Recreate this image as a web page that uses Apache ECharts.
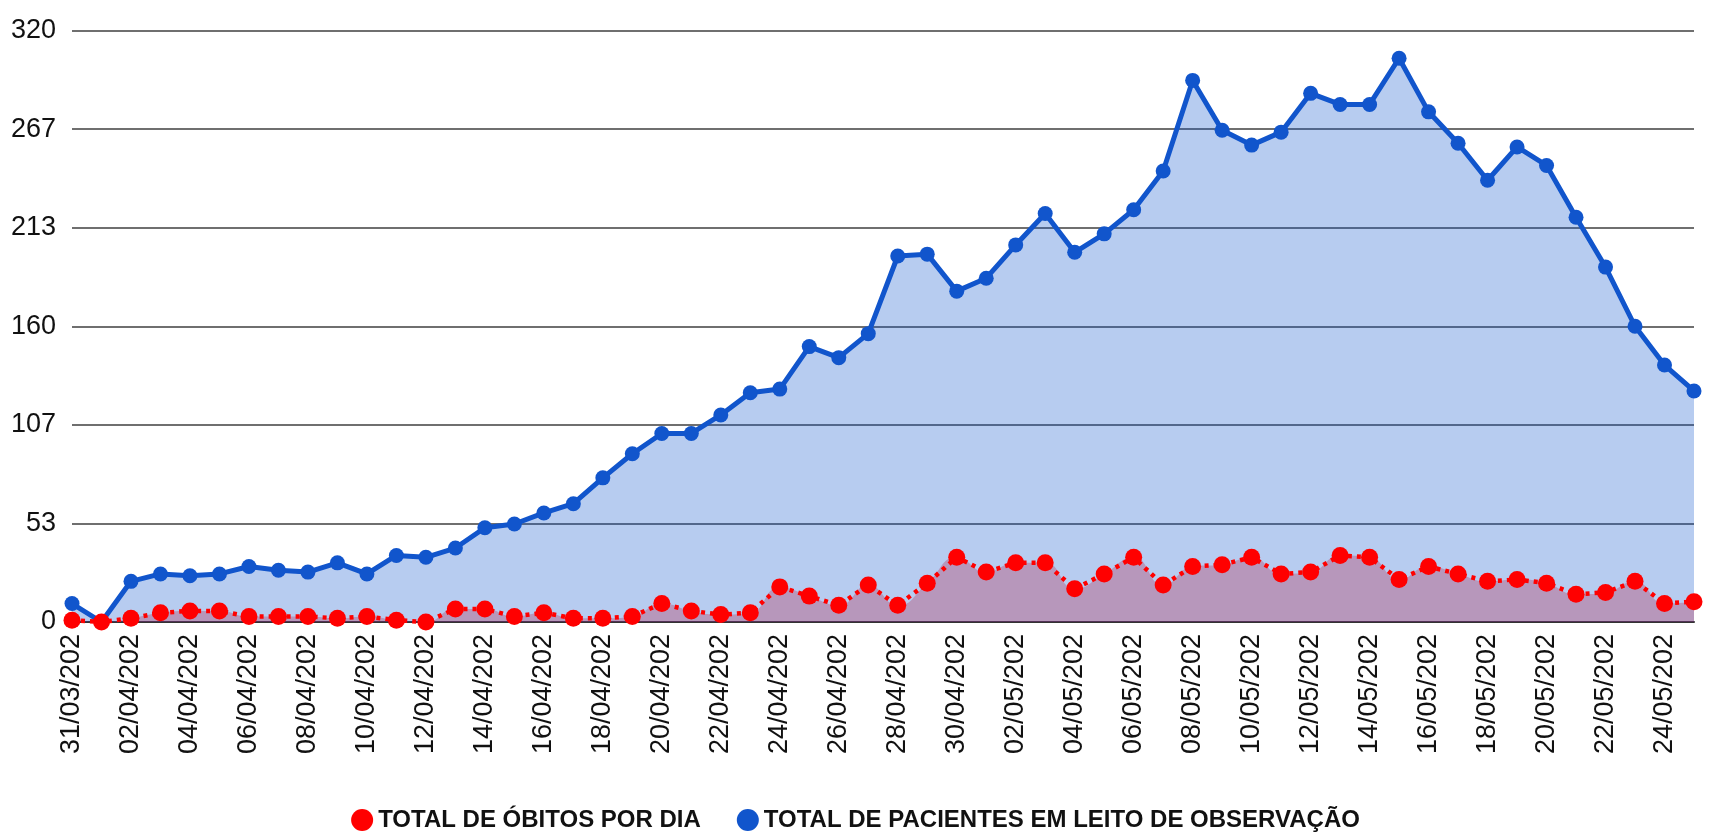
<!DOCTYPE html>
<html>
<head>
<meta charset="utf-8">
<title>Óbitos e pacientes em leito de observação</title>
<script src="https://cdn.jsdelivr.net/npm/echarts@6/dist/echarts.min.js"></script>
<style>
  html, body { margin: 0; padding: 0; background: #fff; }
  #chart { width: 1711px; height: 834px; }
</style>
</head>
<body>
<div id="chart"></div>
<script>
// dias (31/03 a 25/05)
const dias = [
  "31/03/2020", "01/04/2020", "02/04/2020", "03/04/2020", "04/04/2020", "05/04/2020", "06/04/2020",
  "07/04/2020", "08/04/2020", "09/04/2020", "10/04/2020", "11/04/2020", "12/04/2020", "13/04/2020",
  "14/04/2020", "15/04/2020", "16/04/2020", "17/04/2020", "18/04/2020", "19/04/2020", "20/04/2020",
  "21/04/2020", "22/04/2020", "23/04/2020", "24/04/2020", "25/04/2020", "26/04/2020", "27/04/2020",
  "28/04/2020", "29/04/2020", "30/04/2020", "01/05/2020", "02/05/2020", "03/05/2020", "04/05/2020",
  "05/05/2020", "06/05/2020", "07/05/2020", "08/05/2020", "09/05/2020", "10/05/2020", "11/05/2020",
  "12/05/2020", "13/05/2020", "14/05/2020", "15/05/2020", "16/05/2020", "17/05/2020", "18/05/2020",
  "19/05/2020", "20/05/2020", "21/05/2020", "22/05/2020", "23/05/2020", "24/05/2020", "25/05/2020"
]

// total de óbitos por dia
const obitos = [
  1, 0, 2, 5, 6, 6, 3, 3, 3, 2, 3, 1, 0, 7, 7, 3, 5, 2, 2, 3, 10,
  6, 4, 5, 19, 14, 9, 20, 9, 21, 35, 27, 32, 32, 18, 26, 35, 20,
  30, 31, 35, 26, 27, 36, 35, 23, 30, 26, 22, 23, 21, 15, 16, 22, 10, 11
]

// total de pacientes em leito de observação
const pacientes = [
  10, 0, 22, 26, 25, 26, 30, 28, 27, 32, 26, 36, 35, 40, 51, 53, 59, 64, 78, 91, 102,
  102, 112, 124, 126, 149, 143, 156, 198, 199, 179, 186, 204, 221, 200, 210, 223, 244,
  293, 266, 258, 265, 286, 280, 280, 305, 276, 259, 239, 257, 247, 219, 192, 160, 139, 125
]

// ticks do eixo y
const yMax = 320
const ySteps = 6

const NOME_OBITOS = "TOTAL DE ÓBITOS POR DIA"
const NOME_PACIENTES = "TOTAL DE PACIENTES EM LEITO DE OBSERVAÇÃO"

const fonte = "'Liberation Sans', Arial, sans-serif"

const myChart = echarts.init(document.getElementById("chart"))

const option = {
  animation: false,
  color: ["#ff0000", "#1155cc"],
  grid: {
    left: 72,
    right: 17,
    top: 30.5,
    bottom: 212,
    containLabel: false,
  },
  legend: {
    data: [NOME_OBITOS, NOME_PACIENTES],
    icon: "circle",
    itemWidth: 22,
    itemHeight: 22,
    itemGap: 36,
    top: 803,
    left: "center",
    textStyle: {
      color: "#111",
      fontFamily: fonte,
      fontWeight: "bold",
      fontSize: 24,
    },
  },
  xAxis: {
    type: "category",
    data: dias,
    boundaryGap: false,
    axisTick: { show: false },
    axisLine: {
      lineStyle: { color: "#333", width: 2 },
    },
    axisLabel: {
      interval: 1,
      rotate: 90,
      margin: 12,
      color: "#111",
      fontFamily: fonte,
      fontSize: 27,
      // o gráfico original corta o ano
      formatter: (v) => v.slice(0, 9),
    },
  },
  yAxis: {
    type: "value",
    min: 0,
    max: yMax,
    interval: yMax / ySteps,
    axisLine: { show: false },
    axisTick: { show: false },
    axisLabel: {
      margin: 16,
      color: "#111",
      fontFamily: fonte,
      fontSize: 27,
      formatter: (v) => Math.round(v),
    },
    splitLine: {
      lineStyle: { color: "#6f6f6f", width: 2 },
    },
  },
  series: [
    // área suavizada dos óbitos (desenhada por baixo)
    {
      name: NOME_OBITOS,
      type: "line",
      data: obitos,
      smooth: 0.5,
      showSymbol: false,
      silent: true,
      lineStyle: { width: 0 },
      itemStyle: { color: "#ff0000" },
      areaStyle: { color: "#ff0000", opacity: 0.3 },
      z: 1,
    },
    // pacientes
    {
      name: NOME_PACIENTES,
      type: "line",
      data: pacientes,
      symbol: "circle",
      symbolSize: 15,
      lineStyle: { color: "#1155cc", width: 5 },
      itemStyle: { color: "#1155cc" },
      areaStyle: { color: "#1155cc", opacity: 0.3 },
      z: 2,
    },
    // linha pontilhada dos óbitos
    {
      name: NOME_OBITOS,
      type: "line",
      data: obitos,
      symbol: "circle",
      symbolSize: 17,
      lineStyle: { color: "#ff0000", width: 4.5, type: [4, 5] },
      itemStyle: { color: "#ff0000" },
      z: 3,
    },
  ],
}

myChart.setOption(option)
</script>
</body>
</html>
